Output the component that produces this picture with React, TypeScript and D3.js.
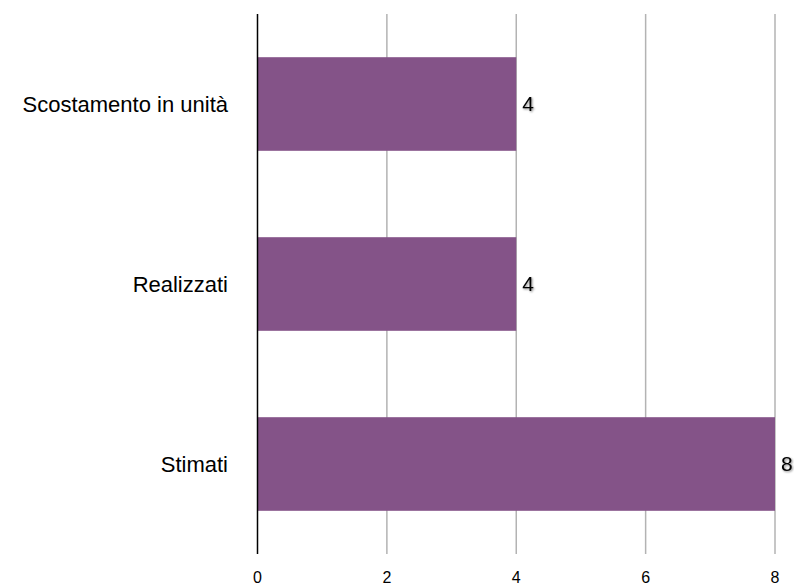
import React from "react";
import * as d3 from "d3";

const categories = ["Scostamento in unità", "Realizzati", "Stimati"];
const values = [4, 4, 8];
const xTicks = [0, 2, 4, 6, 8];

export default function App() {
  const W = 794, H = 585;
  const left = 257.5, right = 775, top = 14, bottom = 554;
  const x = d3.scaleLinear().domain([0, 8]).range([left, right]);
  const y = d3.scaleBand().domain(categories).range([top, bottom]).paddingInner(0.48).paddingOuter(0.24);
  const font = "'Liberation Sans', Arial, Helvetica, sans-serif";
  return (
    <svg width={W} height={H} style={{ position: "absolute", left: 0, top: 0, background: "#fff" }}>
      <defs>
        <filter id="sh" x="-50%" y="-50%" width="200%" height="200%">
          <feGaussianBlur in="SourceAlpha" stdDeviation="1" />
          <feOffset dx="1" dy="1" result="b" />
          <feComponentTransfer><feFuncA type="linear" slope="0.5" /></feComponentTransfer>
          <feMerge><feMergeNode /><feMergeNode in="SourceGraphic" /></feMerge>
        </filter>
      </defs>
      {xTicks.filter(t => t > 0).map(t => (
        <line key={t} x1={x(t)} x2={x(t)} y1={top} y2={bottom} stroke="#b3b3b3" strokeWidth={1.5} />
      ))}
      {categories.map((c, i) => (
        <rect key={c} x={x(0)} y={y(c)!} width={x(values[i]) - x(0)} height={y.bandwidth()} fill="#845388" />
      ))}
      <line x1={x(0)} x2={x(0)} y1={top} y2={bottom} stroke="#000" strokeWidth={1.5} />
      {categories.map((c, i) => (
        <text key={c} x={228} y={y(c)! + y.bandwidth() / 2} dy="0.35em" textAnchor="end" fontFamily={font} fontSize={22} fill="#000">{c}</text>
      ))}
      {categories.map((c, i) => (
        <text key={"v" + c} x={x(values[i]) + 6} y={y(c)! + y.bandwidth() / 2} dy="0.35em" fontFamily={font} fontSize={21} fill="#000" filter="url(#sh)">{values[i]}</text>
      ))}
      {xTicks.map(t => (
        <text key={"t" + t} x={x(t)} y={583} textAnchor="middle" fontFamily={font} fontSize={16} fill="#000">{t}</text>
      ))}
    </svg>
  );
}
